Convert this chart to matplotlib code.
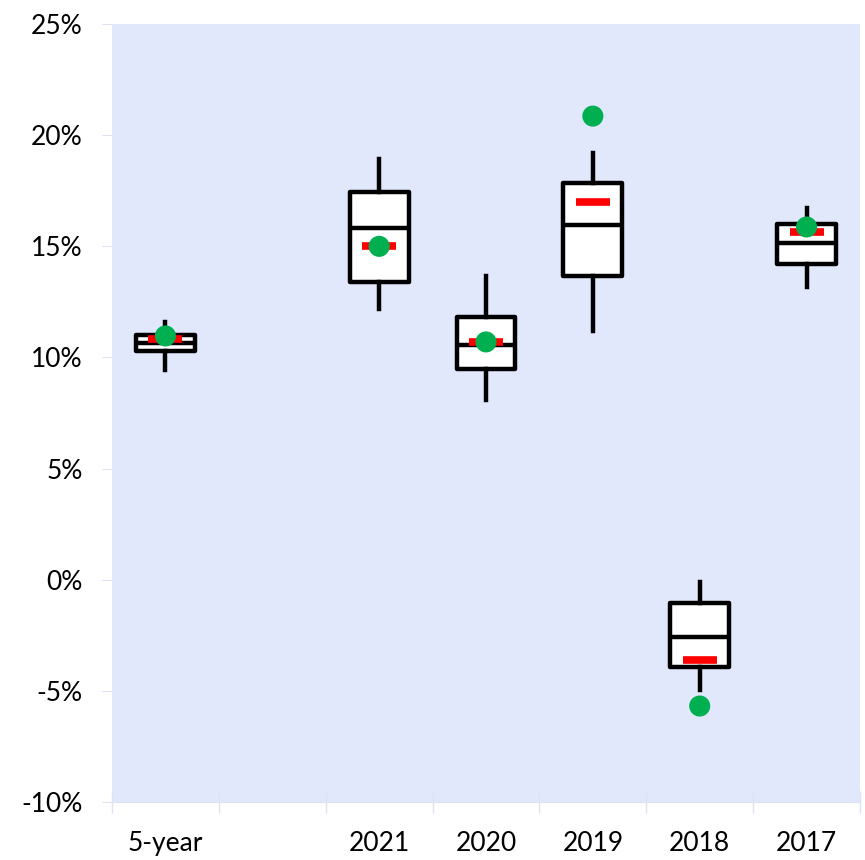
import matplotlib.pyplot as plt
import numpy as np
from matplotlib.ticker import FuncFormatter

# values in percent
labels = ['5-year', '', '2021', '2020', '2019', '2018', '2017']
whislo = [9.45, None, 12.18, 8.09, 11.19, -4.96, 13.17]
q1 = [10.3, None, 13.39, 9.48, 13.66, -3.93, 14.2]
med = [10.65, None, 15.82, 10.56, 15.96, -2.58, 15.15]
q3 = [11.0, None, 17.44, 11.82, 17.85, -1.05, 16.0]
whishi = [11.6, None, 18.93, 13.66, 19.2, -0.1, 16.72]
means = [10.83, None, 15.01, 10.7, 16.99, -3.6, 15.64]
actual = [10.97, None, 15.0, 10.7, 20.86, -5.68, 15.87]

plt.rcParams['font.family'] = ['Lato', 'DejaVu Sans']

fig = plt.figure(figsize=(8.65, 8.6), dpi=100)
ax = fig.add_axes([0.1295, 0.0674, 0.8647, 0.9046])
ax.set_facecolor('#e1e8fc')

stats = []
pos = []
for i in range(len(labels)):
    if med[i] is None:
        continue
    stats.append(dict(whislo=whislo[i], q1=q1[i], med=med[i], q3=q3[i],
                      whishi=whishi[i], fliers=[]))
    pos.append(i)

lw = 3.2
ax.bxp(stats, positions=pos, widths=0.55, patch_artist=True, showcaps=False,
       boxprops=dict(facecolor='white', edgecolor='black', linewidth=lw,
                     joinstyle='round'),
       medianprops=dict(color='black', linewidth=lw),
       whiskerprops=dict(color='black', linewidth=lw), zorder=2)

mx = [i for i in range(len(labels)) if means[i] is not None]
ax.scatter(mx, [means[i] for i in mx], marker='_', s=600, linewidths=5.5,
           color='#ff0000', zorder=3)
ax.scatter(mx, [actual[i] for i in mx], s=230, color='#00b050',
           edgecolors='none', zorder=4)

ax.set_xlim(-0.5, len(labels) - 0.5)
ax.set_ylim(-10, 25)
ax.set_yticks(np.arange(-10, 26, 5))
ax.yaxis.set_major_formatter(FuncFormatter(lambda v, p: '%d%%' % v))
ax.set_xticks(range(len(labels)))
ax.set_xticklabels(labels)
ax.set_xticks(np.arange(-0.5, len(labels), 1), minor=True)

for s in ['top', 'right', 'left']:
    ax.spines[s].set_visible(False)
ax.spines['bottom'].set_color('#dde3f0')
ax.tick_params(axis='x', which='major', length=0, pad=21, labelsize=19)
ax.tick_params(axis='x', which='minor', length=16, direction='inout',
               color='#dde3f0', width=1)
ax.tick_params(axis='y', length=7, color='#dde3f0', pad=14, labelsize=19)

fig.savefig('out.png', dpi=100)
